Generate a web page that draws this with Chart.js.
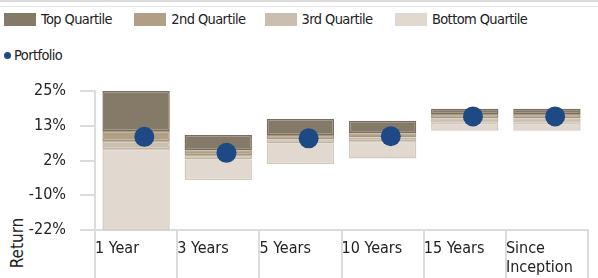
<!DOCTYPE html>
<html>
<head>
<meta charset="utf-8">
<script src="https://cdn.jsdelivr.net/npm/chart.js@4"></script>
<style>
  body { margin: 0; background: #fff; font-family: "Liberation Sans Narrow", "DejaVu Sans Condensed", sans-serif; color: #222; }
  #wrap { position: relative; width: 598px; height: 278px; overflow: hidden; }
  #chart { position: absolute; left: 0; top: 0; }
  .rule1 { position: absolute; left: 0; top: 0; width: 598px; height: 2px; background: #dcdcdc; }
  .rule2 { position: absolute; left: 0; top: 6px; width: 598px; height: 1px; background: #e4e4e4; }
  #legend { position: absolute; left: 4px; top: 13px; display: flex; }
  .item { width: 130.3px; display: flex; align-items: center; font-size: 14.5px; letter-spacing: -0.6px; line-height: 13px; white-space: nowrap; }
  .sw { width: 32px; height: 13px; margin-right: 5px; flex: none; }
  #pf { position: absolute; left: 4px; top: 47px; display: flex; align-items: center; font-size: 14.5px; letter-spacing: -0.6px; }
  .dot { width: 7px; height: 7px; border-radius: 50%; margin-right: 3px; }
  #ytitle { position: absolute; left: 17px; top: 243px; font-size: 17px; transform: translate(-50%, -50%) rotate(-90deg); white-space: nowrap; }
</style>
</head>
<body>
<div id="wrap">
  <div class="rule1"></div>
  <div class="rule2"></div>
  <div id="legend"></div>
  <div id="pf"></div>
  <div id="ytitle">Return</div>
  <canvas id="chart" width="598" height="278"></canvas>
</div>
<script>
// categories and quartile breakpoints (%)
const categories = ['1 Year', '3 Years', '5 Years', '10 Years', '15 Years', ['Since', 'Inception']];
const highs   = [25.0, 10.1, 15.5, 14.9, 19.0, 19.0];
const q1      = [11.5, 5.0, 10.1, 10.7, 17.2, 17.2];
const medians = [8.1, 3.4, 8.7, 9.3, 15.8, 15.8];
const q3      = [5.4, 1.9, 7.3, 8.1, 14.3, 14.3];
const lows    = [-22.0, -5.1, 0.3, 2.2, 11.6, 11.6];
const portfolio = [9.5, 4.1, 9.0, 9.7, 16.4, 16.4];

const yTicks = [-22, -10.25, 1.5, 13.25, 25];
const yTickLabels = ['-22%', '-10%', '2%', '13%', '25%'];

const quartileNames = ['Top Quartile', '2nd Quartile', '3rd Quartile', 'Bottom Quartile'];
const quartileColors = ['#857a68', '#b09f85', '#cabfae', '#e1d9cf'];
const quartileBorders = ['#7b705f', '#a8977d', '#c2b7a5', '#d3cabd'];
const portfolioColor = '#1d4a85';

// html legend
const legend = document.getElementById('legend');
quartileNames.forEach((name, i) => {
    const item = document.createElement('div');
    item.className = 'item';
    item.innerHTML = '<span class="sw" style="background:' + quartileColors[i] + '"></span>' + name;
    legend.appendChild(item);
});
document.getElementById('pf').innerHTML = '<span class="dot" style="background:' + portfolioColor + '"></span>Portfolio';

const ranges = [
    highs.map((h, i) => [q1[i], h]),
    q1.map((v, i) => [medians[i], v]),
    medians.map((v, i) => [q3[i], v]),
    q3.map((v, i) => [lows[i], v])
];

const barSets = quartileNames.map((name, i) => ({
    type: 'bar',
    label: name,
    data: ranges[i],
    backgroundColor: quartileColors[i],
    borderColor: quartileBorders[i],
    borderWidth: 1.5,
    borderSkipped: false,
    grouped: false,
    barPercentage: 0.82,
    categoryPercentage: 1,
    order: 1
}));

const font = { family: '"Liberation Sans Narrow", "DejaVu Sans Condensed", sans-serif', size: 16 };

new Chart(document.getElementById('chart'), {
    data: {
        labels: categories,
        datasets: [...barSets, {
            type: 'scatter',
            label: 'Portfolio',
            data: portfolio.map((v, i) => ({ x: i + 0.6, y: v })),
            xAxisID: 'xd',
            backgroundColor: portfolioColor,
            borderWidth: 0,
            pointRadius: 10,
            order: 0
        }]
    },
    options: {
        responsive: false,
        animation: false,
        layout: { padding: { top: 91, left: 0, right: 0, bottom: 0 } },
        plugins: { legend: { display: false }, tooltip: { enabled: false } },
        scales: {
            x: {
                type: 'category',
                offset: true,
                border: { color: '#dcdcdc', width: 2 },
                grid: { offset: true, drawOnChartArea: false, color: '#dcdcdc', lineWidth: 2, tickLength: 48 },
                ticks: { align: 'start', labelOffset: -41, padding: -39, color: '#222', font: font, maxRotation: 0, autoSkip: false, lineHeight: 1.4 },
                afterFit: (s) => { s.height = 48; s.paddingLeft = 0; s.paddingRight = 0; }
            },
            xd: { type: 'linear', display: false, min: 0, max: 6 },
            y: {
                min: -22,
                max: 25,
                border: { color: '#dcdcdc', width: 2 },
                grid: { drawOnChartArea: false, color: '#dcdcdc', lineWidth: 2, tickLength: 15 },
                afterBuildTicks: (s) => { s.ticks = yTicks.map(v => ({ value: v })); },
                ticks: {
                    padding: 14,
                    color: '#222',
                    font: font,
                    callback: (v) => yTickLabels[yTicks.indexOf(v)]
                },
                afterFit: (s) => { s.width = 95; s.paddingTop = 0; s.paddingBottom = 0; }
            }
        }
    }
});
</script>
</body>
</html>
